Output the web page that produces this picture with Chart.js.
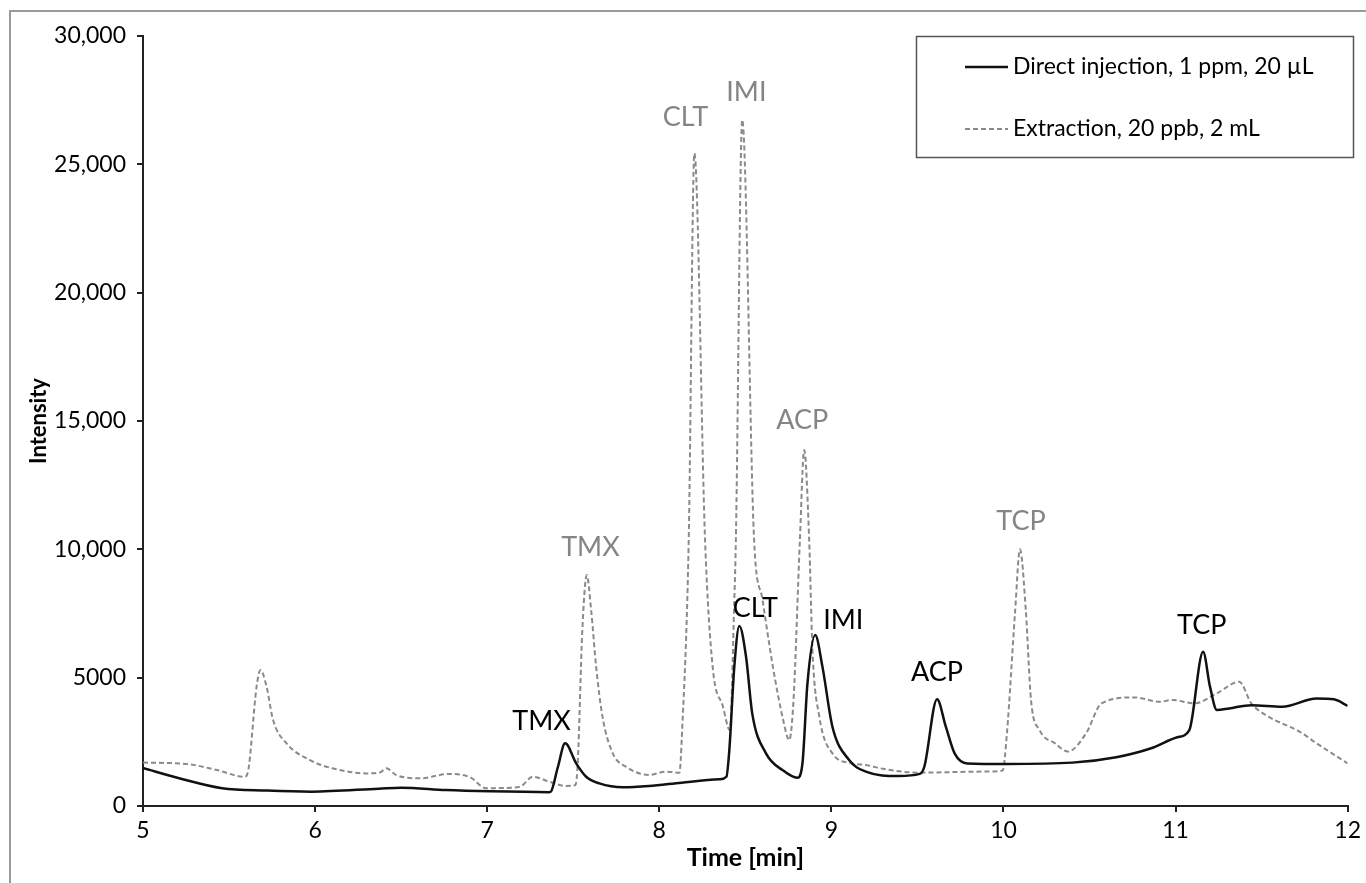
<!DOCTYPE html>
<html>
<head>
<meta charset="utf-8">
<script src="https://cdn.jsdelivr.net/npm/chart.js@4/dist/chart.umd.min.js"></script>
<style>
  html, body { margin: 0; padding: 0; background: #fff; }
  canvas { display: block; }
</style>
</head>
<body>
<canvas id="c" width="1366" height="883"></canvas>
<script>
// ---- Data ----
const directTime = [5.00, 5.21, 5.46, 5.72, 5.98, 6.37, 6.50, 6.76, 7.02, 7.36, 7.37, 7.41, 7.453, 7.517, 7.575, 7.652, 7.79, 7.94, 8.13, 8.35, 8.39, 8.407, 8.436, 8.465, 8.504, 8.54, 8.62, 8.716, 8.803, 8.832, 8.861, 8.906, 8.948, 9.006, 9.103, 9.20, 9.39, 9.513, 9.54, 9.614, 9.665, 9.716, 9.79, 10.02, 10.40, 10.655, 10.858, 11.01, 11.08, 11.16, 11.20, 11.24, 11.31, 11.44, 11.62, 11.82, 11.92, 12.00];
const directIntensity = [1480, 1080, 690, 600, 560, 675, 715, 620, 570, 540, 560, 1500, 2440, 1660, 1140, 880, 730, 780, 910, 1040, 1140, 2180, 5430, 7010, 5820, 3610, 2050, 1400, 1100, 1660, 4780, 6660, 5430, 3090, 1790, 1340, 1170, 1250, 1530, 4160, 3090, 2050, 1660, 1640, 1690, 1900, 2250, 2680, 2960, 6010, 4650, 3740, 3800, 3930, 3870, 4190, 4160, 3900];

const extractionTime = [5.00, 5.25, 5.43, 5.59, 5.61, 5.66, 5.683, 5.718, 5.756, 5.834, 5.97, 6.10, 6.30, 6.375, 6.414, 6.47, 6.61, 6.78, 6.90, 6.995, 7.07, 7.19, 7.265, 7.36, 7.46, 7.513, 7.527, 7.552, 7.579, 7.604, 7.633, 7.67, 7.73, 7.807, 7.94, 8.04, 8.117, 8.132, 8.171, 8.204, 8.266, 8.31, 8.37, 8.41, 8.436, 8.445, 8.482, 8.551, 8.60, 8.66, 8.72, 8.755, 8.78, 8.817, 8.842, 8.871, 8.89, 8.93, 9.006, 9.12, 9.20, 9.30, 9.50, 9.89, 9.995, 10.02, 10.067, 10.096, 10.13, 10.16, 10.21, 10.30, 10.375, 10.48, 10.57, 10.76, 10.91, 10.98, 11.11, 11.24, 11.37, 11.44, 11.54, 11.72, 11.82, 12.00];
const extractionIntensity = [1690, 1640, 1400, 1140, 1340, 4650, 5300, 4650, 3350, 2440, 1790, 1470, 1270, 1300, 1470, 1210, 1080, 1250, 1120, 690, 700, 750, 1140, 950, 780, 820, 1790, 6730, 9000, 7640, 5430, 3480, 2050, 1530, 1210, 1340, 1300, 2830, 10360, 25430, 10360, 5430, 3870, 2960, 8030, 10360, 26730, 10360, 8030, 5430, 3350, 2570, 4130, 10360, 13870, 10360, 6080, 3480, 2050, 1660, 1600, 1450, 1300, 1340, 1380, 2830, 7520, 10000, 7600, 4130, 2960, 2440, 2120, 2830, 4000, 4230, 4060, 4130, 4000, 4390, 4840, 4000, 3480, 2900, 2440, 1660];

const yTickValues = [0, 5000, 10000, 15000, 20000, 25000, 30000];
const yTickLabels = ['0', '5000', '10,000', '15,000', '20,000', '25,000', '30,000'];
const xTickLabels = ['5', '6', '7', '8', '9', '10', '11', '12'];

const seriesNames = ['Direct injection, 1 ppm, 20 \u00b5L', 'Extraction, 20 ppb, 2 mL'];

// Peak annotations (label text and anchor in data units)
const peakNames = ['TMX', 'CLT', 'IMI', 'ACP', 'TCP'];
const directLabelTime = [7.316, 8.558, 9.069, 9.614, 11.152];
const directLabelIntensity = [3310, 7710, 7250, 5220, 7050];
const extractionLabelTime = [7.600, 8.152, 8.506, 8.831, 10.102];
const extractionLabelIntensity = [10090, 26840, 27820, 15040, 11100];

// ---- Build chart ----
const FONT = 'Lato, "Open Sans", sans-serif';
const toPoints = (xs, ys) => xs.map((x, i) => ({ x: x, y: ys[i] }));

const framePlugin = {
  id: 'frame',
  beforeDraw(chart) {
    const ctx = chart.ctx;
    ctx.save();
    ctx.fillStyle = '#fff';
    ctx.fillRect(0, 0, chart.width, chart.height);
    ctx.strokeStyle = '#9a9a9a';
    ctx.lineWidth = 2;
    ctx.beginPath();
    ctx.moveTo(10, chart.height + 2);
    ctx.lineTo(10, 11);
    ctx.lineTo(chart.width + 2, 11);
    ctx.stroke();
    ctx.restore();
  }
};

const peakLabelPlugin = {
  id: 'peakLabels',
  afterDatasetsDraw(chart) {
    const ctx = chart.ctx;
    const xs = chart.scales.x, ys = chart.scales.y;
    ctx.save();
    ctx.font = '27px ' + FONT;
    ctx.textAlign = 'center';
    ctx.textBaseline = 'middle';
    ctx.fillStyle = '#858585';
    peakNames.forEach((n, i) => {
      ctx.fillText(n, xs.getPixelForValue(extractionLabelTime[i]), ys.getPixelForValue(extractionLabelIntensity[i]));
    });
    ctx.fillStyle = '#000';
    peakNames.forEach((n, i) => {
      ctx.fillText(n, xs.getPixelForValue(directLabelTime[i]), ys.getPixelForValue(directLabelIntensity[i]));
    });
    ctx.restore();
  }
};

const legendBoxPlugin = {
  id: 'legendBox',
  afterDraw(chart) {
    const ctx = chart.ctx;
    ctx.save();
    ctx.strokeStyle = '#555';
    ctx.lineWidth = 1.5;
    ctx.strokeRect(916.5, 36.5, 437, 121);
    const ds = chart.data.datasets;
    const rows = [67, 129];
    ds.forEach((d, i) => {
      ctx.strokeStyle = d.borderColor;
      ctx.lineWidth = d.borderWidth;
      ctx.setLineDash(d.borderDash || []);
      ctx.beginPath();
      ctx.moveTo(965, rows[i]);
      ctx.lineTo(1008, rows[i]);
      ctx.stroke();
      ctx.setLineDash([]);
      ctx.fillStyle = '#000';
      ctx.font = '23px ' + FONT;
      ctx.textAlign = 'left';
      ctx.textBaseline = 'middle';
      ctx.fillText(d.label, 1013, rows[i]);
    });
    ctx.restore();
  }
};

new Chart(document.getElementById('c'), {
  type: 'line',
  data: {
    datasets: [
      {
        label: seriesNames[0],
        data: toPoints(directTime, directIntensity),
        borderColor: '#111',
        borderWidth: 2.5,
        pointRadius: 0,
        cubicInterpolationMode: 'monotone',
        fill: false
      },
      {
        label: seriesNames[1],
        data: toPoints(extractionTime, extractionIntensity),
        borderColor: '#8a8a8a',
        borderWidth: 2,
        borderDash: [5, 3],
        pointRadius: 0,
        cubicInterpolationMode: 'monotone',
        fill: false
      }
    ]
  },
  options: {
    responsive: false,
    animation: false,
    devicePixelRatio: 1,
    layout: { padding: { left: 0, right: 17, top: 36, bottom: 0 } },
    plugins: {
      legend: { display: false },
      tooltip: { enabled: false },
      title: { display: false }
    },
    scales: {
      x: {
        type: 'linear',
        min: 5, max: 12,
        afterFit(s) { s.height = 77; },
        afterBuildTicks(s) { s.ticks = xTickLabels.map(v => ({ value: Number(v) })); },
        ticks: {
          callback: (v, i) => xTickLabels[i],
          color: '#000',
          font: { family: FONT, size: 23 },
          padding: 5,
          maxRotation: 0
        },
        grid: { drawOnChartArea: false, drawTicks: true, tickLength: 6, color: '#222', lineWidth: 2 },
        border: { display: true, color: '#222', width: 2 },
        title: {
          display: true,
          text: 'Time [min]',
          color: '#000',
          font: { family: FONT, size: 25, weight: 'bold' },
          padding: { top: 0, bottom: 10 }
        }
      },
      y: {
        type: 'linear',
        min: 0, max: 30000,
        afterFit(s) { s.width = 143; },
        afterBuildTicks(s) { s.ticks = yTickValues.map(v => ({ value: v })); },
        ticks: {
          callback: (v, i) => yTickLabels[i],
          color: '#000',
          font: { family: FONT, size: 23 },
          padding: 11
        },
        grid: { drawOnChartArea: false, drawTicks: true, tickLength: 6, color: '#222', lineWidth: 2 },
        border: { display: true, color: '#222', width: 2 },
        title: {
          display: true,
          text: 'Intensity',
          color: '#000',
          font: { family: FONT, size: 22, weight: 'bold' },
          padding: { top: 26, bottom: 0 }
        }
      }
    }
  },
  plugins: [framePlugin, peakLabelPlugin, legendBoxPlugin]
});
</script>
</body>
</html>
